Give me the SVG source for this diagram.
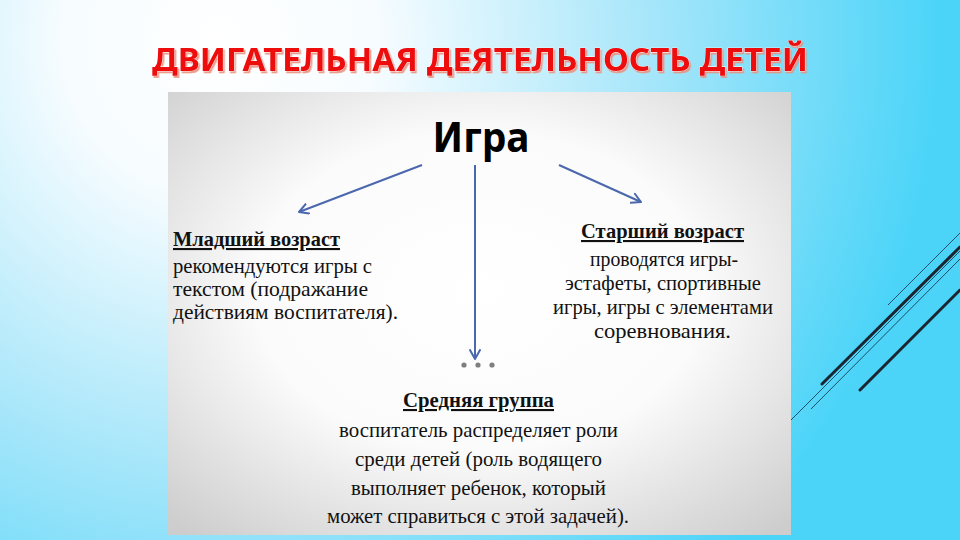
<svg xmlns="http://www.w3.org/2000/svg" width="960" height="540" viewBox="0 0 960 540">
  <defs>
    <radialGradient id="bg" gradientUnits="userSpaceOnUse" cx="220" cy="40" r="720">
      <stop offset="0" stop-color="#ffffff"/>
      <stop offset="0.22" stop-color="#f6fcff"/>
      <stop offset="0.6" stop-color="#a6e6fa"/>
      <stop offset="1" stop-color="#4bd4f8"/>
    </radialGradient>
    <radialGradient id="panel" cx="0.5" cy="0.45" r="0.72">
      <stop offset="0" stop-color="#ffffff"/>
      <stop offset="0.5" stop-color="#fbfbfb"/>
      <stop offset="1" stop-color="#cdcdcd"/>
    </radialGradient>
    <filter id="tshadow" x="-5%" y="-30%" width="110%" height="160%">
      <feDropShadow dx="1.5" dy="2" stdDeviation="0.6" flood-color="#e9927f" flood-opacity="0.9"/>
    </filter>
    <marker id="arr" viewBox="0 0 12 12" refX="10" refY="6" markerWidth="12" markerHeight="12" markerUnits="userSpaceOnUse" orient="auto">
      <path d="M1,1 L10,6 L1,11" fill="none" stroke="#4b67ad" stroke-width="2" stroke-linecap="round" stroke-linejoin="round"/>
    </marker>
    <style>
      .title { font-family: "Noto Sans", "DejaVu Sans", sans-serif; font-weight: bold; font-size: 32px; }
      .head { font-family: "Liberation Serif", serif; font-weight: bold; font-size: 21px; fill: #111; text-decoration: underline; }
      .body { font-family: "Liberation Serif", serif; font-size: 21px; fill: #111; }
      .conn { stroke: #4b67ad; stroke-width: 2; fill: none; }
      .deco-thick { stroke: #1b2633; stroke-width: 3; stroke-linecap: round; }
      .deco-thin { stroke: #1d4e6a; stroke-width: 1; }
    </style>
  </defs>

  <rect x="0" y="0" width="960" height="540" fill="url(#bg)"/>

  <g id="decor">
    <line class="deco-thin" x1="888" y1="305" x2="960" y2="233"/>
    <line class="deco-thick" x1="822" y1="384" x2="960" y2="247"/>
    <line class="deco-thin" x1="791" y1="420" x2="960" y2="251"/>
    <line class="deco-thin" x1="811" y1="409" x2="960" y2="259"/>
    <line class="deco-thick" x1="860" y1="390" x2="960" y2="290"/>
  </g>

  <g id="title" filter="url(#tshadow)">
    <text class="title" x="152" y="71" fill="#ee0a0f" stroke="#ffffff" stroke-width="0.6" paint-order="stroke" textLength="656" lengthAdjust="spacingAndGlyphs">ДВИГАТЕЛЬНАЯ ДЕЯТЕЛЬНОСТЬ ДЕТЕЙ</text>
  </g>

  <rect id="panel-bg" x="168" y="92" width="623" height="443" fill="url(#panel)"/>

  <g id="node-igra">
    <text x="481" y="152" text-anchor="middle" font-family="'Noto Sans', 'DejaVu Sans', sans-serif" font-weight="bold" font-size="42" fill="#000" textLength="97" lengthAdjust="spacingAndGlyphs">Игра</text>
  </g>

  <g id="connectors">
    <line class="conn" x1="422" y1="165" x2="299" y2="212" marker-end="url(#arr)"/>
    <line class="conn" x1="475" y1="165" x2="475" y2="359" marker-end="url(#arr)"/>
    <line class="conn" x1="559" y1="165" x2="641" y2="202" marker-end="url(#arr)"/>
    <g fill="#7f7f7f">
      <circle cx="464" cy="365" r="2.6"/>
      <circle cx="478" cy="365" r="2.6"/>
      <circle cx="492" cy="365" r="2.6"/>
    </g>
  </g>

  <g id="node-young">
    <text class="head" x="173" y="246" textLength="167" lengthAdjust="spacingAndGlyphs">Младший возраст</text>
    <text class="body" x="173" y="273" textLength="199" lengthAdjust="spacingAndGlyphs">рекомендуются игры с</text>
    <text class="body" x="173" y="296" textLength="195" lengthAdjust="spacingAndGlyphs">текстом (подражание</text>
    <text class="body" x="173" y="319" textLength="225" lengthAdjust="spacingAndGlyphs">действиям воспитателя).</text>
  </g>

  <g id="node-old">
    <text class="head" x="581" y="238" textLength="163" lengthAdjust="spacingAndGlyphs">Старший возраст</text>
    <text class="body" x="590" y="266" textLength="148" lengthAdjust="spacingAndGlyphs">проводятся игры-</text>
    <text class="body" x="565" y="290" textLength="196" lengthAdjust="spacingAndGlyphs">эстафеты, спортивные</text>
    <text class="body" x="553" y="314" textLength="220" lengthAdjust="spacingAndGlyphs">игры, игры с элементами</text>
    <text class="body" x="594" y="338" textLength="137" lengthAdjust="spacingAndGlyphs">соревнования.</text>
  </g>

  <g id="node-middle">
    <text class="head" x="403" y="407" textLength="151" lengthAdjust="spacingAndGlyphs">Средняя группа</text>
    <text class="body" x="339" y="437" textLength="279" lengthAdjust="spacingAndGlyphs">воспитатель распределяет роли</text>
    <text class="body" x="355" y="466" textLength="247" lengthAdjust="spacingAndGlyphs">среди детей (роль водящего</text>
    <text class="body" x="351" y="495" textLength="255" lengthAdjust="spacingAndGlyphs">выполняет ребенок, который</text>
    <text class="body" x="327" y="523" textLength="302" lengthAdjust="spacingAndGlyphs">может справиться с этой задачей).</text>
  </g>
</svg>
